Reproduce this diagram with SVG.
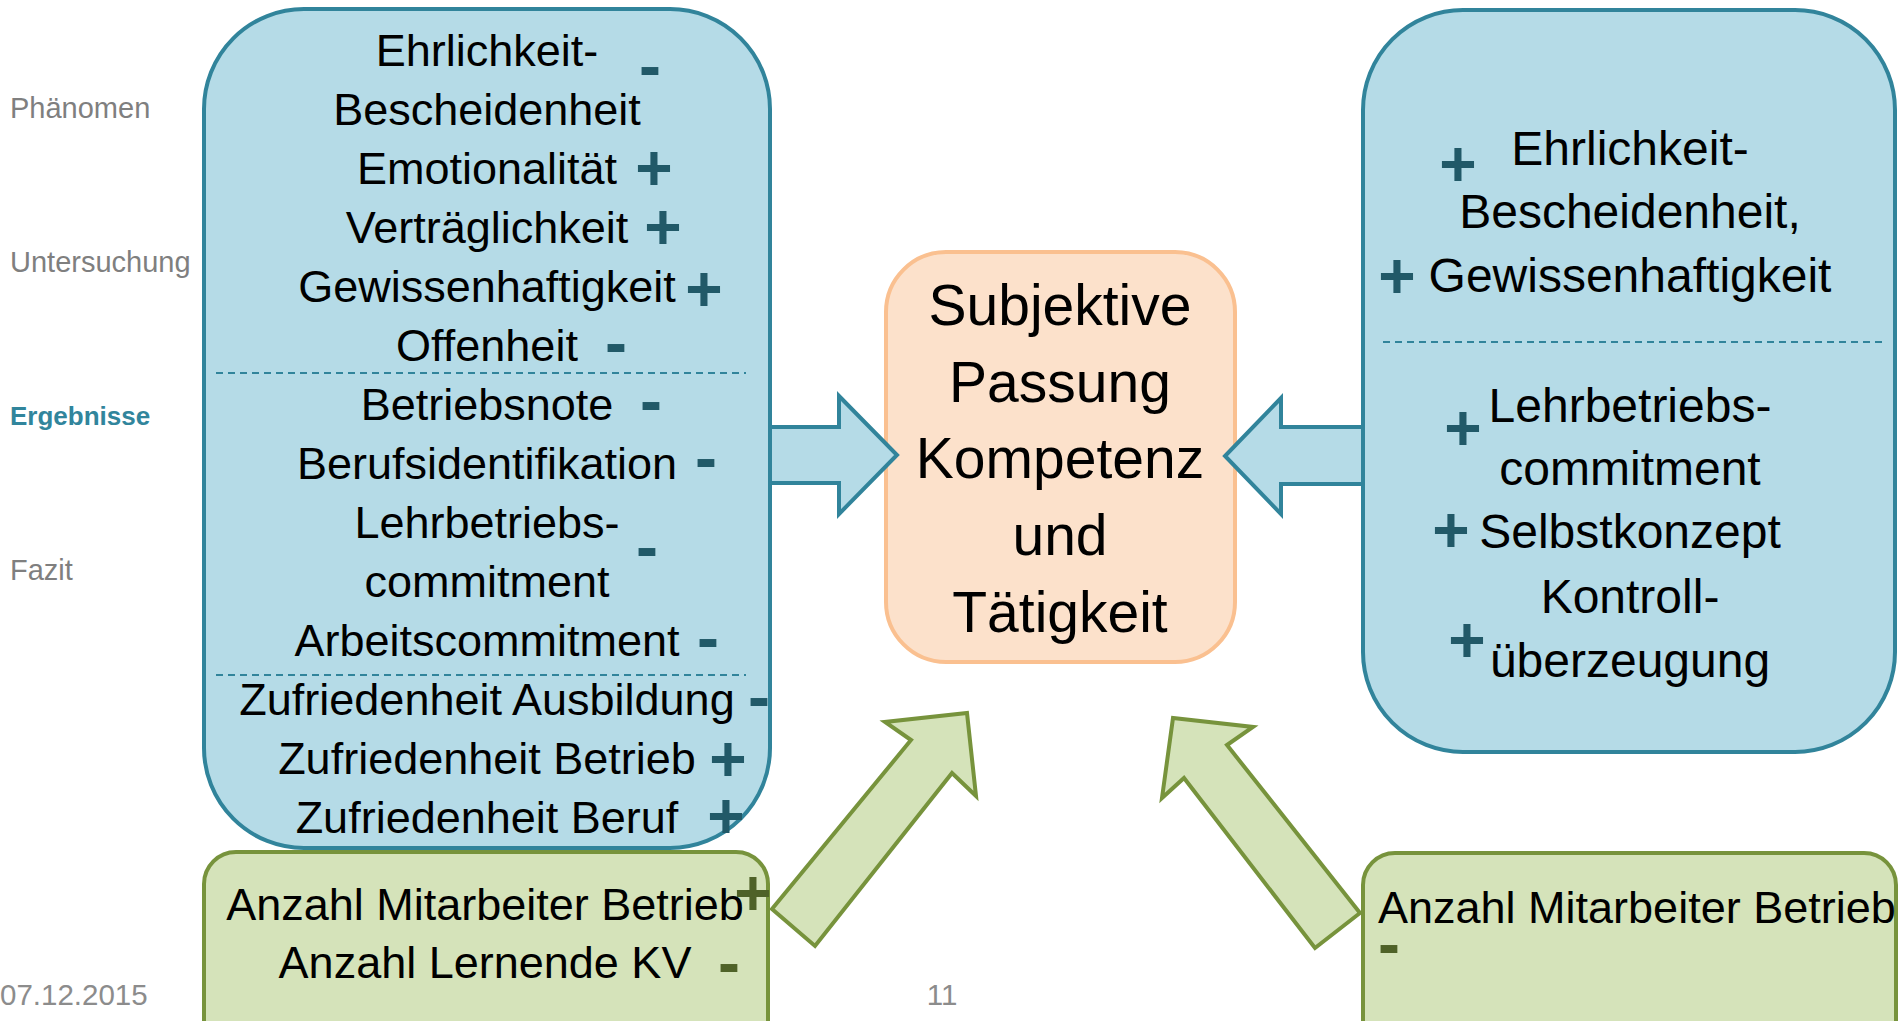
<svg xmlns="http://www.w3.org/2000/svg" width="1899" height="1021" viewBox="0 0 1899 1021">
<style>
text{font-family:"Liberation Sans",Arial,sans-serif}
.side{font-size:29px;fill:#7F7F7F}
.sideA{font-size:26px;fill:#31859C;font-weight:bold}
.foot{font-size:29.5px;fill:#8C8C8C}
.t{font-size:45px;fill:#000;text-anchor:middle}
.tr{font-size:48px;fill:#000;text-anchor:middle}
.tc{font-size:57px;fill:#000;text-anchor:middle}
.p{font-size:64px;font-weight:bold;fill:#215968;text-anchor:middle}
.m{font-size:66px;font-weight:bold;fill:#215968;text-anchor:middle}
.pg{font-size:64px;font-weight:bold;fill:#4F6228;text-anchor:middle}
.mg{font-size:66px;font-weight:bold;fill:#4F6228;text-anchor:middle}
.blue{fill:#B5DBE7;stroke:#31849B;stroke-width:4}
.green{fill:#D5E3BA;stroke:#77933C;stroke-width:4}
.peach{fill:#FCE1CB;stroke:#FAC090;stroke-width:4}
.dash{stroke:#31849B;stroke-width:2;stroke-dasharray:7 5;fill:none}
</style>

<g id="side-labels">
<text class="side" x="10" y="118">Phänomen</text>
<text class="side" x="10" y="272">Untersuchung</text>
<text class="sideA" x="10" y="425">Ergebnisse</text>
<text class="side" x="10" y="580">Fazit</text>
</g>

<g id="footer">
<text class="foot" x="0" y="1005">07.12.2015</text>
<text class="foot" x="942" y="1005" text-anchor="middle">11</text>
</g>

<g id="node-left">
<rect class="blue" x="204" y="9" width="566" height="839" rx="100"/>
<line class="dash" x1="216" y1="373" x2="746" y2="373"/>
<line class="dash" x1="216" y1="675" x2="746" y2="675"/>
<text class="t" x="487" y="66">Ehrlichkeit-</text>
<text class="t" x="487" y="125">Bescheidenheit</text>
<text class="t" x="487" y="184">Emotionalität</text>
<text class="t" x="487" y="243">Verträglichkeit</text>
<text class="t" x="487" y="302">Gewissenhaftigkeit</text>
<text class="t" x="487" y="361">Offenheit</text>
<text class="t" x="487" y="420">Betriebsnote</text>
<text class="t" x="487" y="479">Berufsidentifikation</text>
<text class="t" x="487" y="538">Lehrbetriebs-</text>
<text class="t" x="487" y="597">commitment</text>
<text class="t" x="487" y="656">Arbeitscommitment</text>
<text class="t" x="487" y="715">Zufriedenheit Ausbildung</text>
<text class="t" x="487" y="774">Zufriedenheit Betrieb</text>
<text class="t" x="487" y="833">Zufriedenheit Beruf</text>
<text class="m" x="650" y="88">-</text>
<text class="p" x="654" y="190">+</text>
<text class="p" x="663" y="249">+</text>
<text class="p" x="704" y="311">+</text>
<text class="m" x="616" y="365">-</text>
<text class="m" x="651" y="423">-</text>
<text class="m" x="706" y="480">-</text>
<text class="m" x="647" y="569">-</text>
<text class="m" x="708" y="660">-</text>
<text class="m" x="759" y="719">-</text>
<text class="p" x="728" y="781">+</text>
<text class="p" x="726" y="838">+</text>
</g>

<g id="node-left-green">
<rect class="green" x="204" y="852" width="564" height="200" rx="32"/>
<text class="t" x="485" y="920">Anzahl Mitarbeiter Betrieb</text>
<text class="t" x="485" y="978">Anzahl Lernende KV</text>
<text class="pg" x="753" y="915">+</text>
<text class="mg" x="729" y="985">-</text>
</g>

<g id="node-center">
<rect class="peach" x="886" y="252" width="349" height="410" rx="60"/>
<text class="tc" x="1060" y="325">Subjektive</text>
<text class="tc" x="1060" y="402">Passung</text>
<text class="tc" x="1060" y="478">Kompetenz</text>
<text class="tc" x="1060" y="555">und</text>
<text class="tc" x="1060" y="632">Tätigkeit</text>
</g>

<g id="node-right">
<rect class="blue" x="1363" y="10" width="532" height="742" rx="100"/>
<line class="dash" x1="1383" y1="342" x2="1882" y2="342"/>
<text class="tr" x="1630" y="165">Ehrlichkeit-</text>
<text class="tr" x="1630" y="228">Bescheidenheit,</text>
<text class="tr" x="1630" y="292">Gewissenhaftigkeit</text>
<text class="tr" x="1630" y="422">Lehrbetriebs-</text>
<text class="tr" x="1630" y="485">commitment</text>
<text class="tr" x="1630" y="548">Selbstkonzept</text>
<text class="tr" x="1630" y="613">Kontroll-</text>
<text class="tr" x="1630" y="677">überzeugung</text>
<text class="p" x="1458" y="186">+</text>
<text class="p" x="1397" y="298">+</text>
<text class="p" x="1463" y="450">+</text>
<text class="p" x="1451" y="552">+</text>
<text class="p" x="1467" y="662">+</text>
</g>

<g id="node-right-green">
<rect class="green" x="1363" y="853" width="533" height="200" rx="32"/>
<text class="t" x="1378" y="923" style="text-anchor:start">Anzahl Mitarbeiter Betrieb</text>
<text class="mg" x="1389" y="966">-</text>
</g>

<g id="connectors">
<polygon class="blue" points="770,427 839,427 839,396 897,455 839,514 839,483 770,483"/>
<polygon class="blue" points="1363,427 1281,427 1281,398 1225,456 1281,514 1281,484 1363,484"/>
<polygon class="green" points="772,909 911,740 885,722 967,713 976,796 952,773 815,946"/>
<polygon class="green" points="1360,913 1227,745 1253,727 1173,718 1162,798 1184,778 1315,948"/>
</g>
</svg>
